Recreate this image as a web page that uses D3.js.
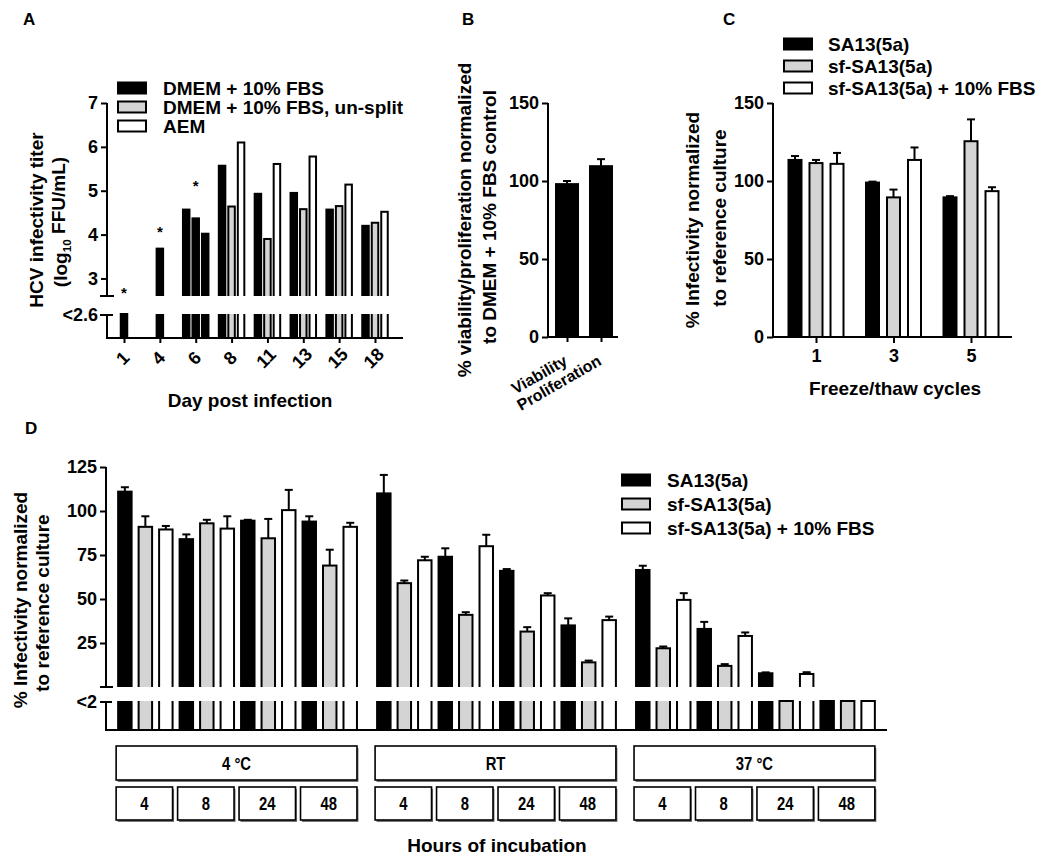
<!DOCTYPE html>
<html><head><meta charset="utf-8">
<script src="https://cdn.jsdelivr.net/npm/d3@7"></script>
<style>
body{margin:0;background:#fff}
svg text{font-family:"Liberation Sans",Arial,Helvetica,sans-serif;font-weight:bold;fill:#000}
svg text.narrow{font-family:"Liberation Sans",Arial,sans-serif;font-weight:bold}
</style></head><body>
<svg id="fig" width="1050" height="862"></svg>
<script>
// ================= DATA =================
// Panel A : HCV infectivity titer (log10 FFU/mL); 0 = below detection (<2.6); null = not measured
const aDays = ["1","4","6","8","11","13","15","18"];
const aSeriesNames = ["DMEM + 10% FBS","DMEM + 10% FBS, un-split","AEM"];
const aDmem    = [0, 3.68, 4.57, 5.57, 4.93, 4.95, 4.57, 4.20];
const aUnsplit = [null, null, 4.37, 4.64, 3.90, 4.58, 4.65, 4.27];
const aAem     = [null, null, 4.02, 6.10, 5.61, 5.78, 5.14, 4.52];
const aStarLevels = [2.75, 4.16, 5.2, null, null, null, null, null];
const aYTicks = [3,4,5,6,7];
const aLod = 2.6;
const aLodLabel = "<2.6";
const aSolidDays = ["6"];   // days whose bars are all drawn filled black in the source

// Panel B
const bCats = ["Viability","Proliferation"];
const bValues = [98, 109.5];
const bErrors = [2, 4.5];
const bYTicks = [0,50,100,150];

// Panel C
const cCycles = ["1","3","5"];
const cSeriesNames = ["SA13(5a)","sf-SA13(5a)","sf-SA13(5a) + 10% FBS"];
const cSA13     = [113.5, 99, 89.5];
const cSA13Err  = [2.5, 0.6, 0.8];
const cSf       = [111.5, 89.5, 125.5];
const cSfErr    = [2, 5, 14];
const cSfFbs    = [111, 113.5, 93.5];
const cSfFbsErr = [7, 8, 2.5];
const cYTicks = [0,50,100,150];

// Panel D : order = temperature-major, then hours; 0 = below detection (<2)
const dTemps = ["4 \u00B0C","RT","37 \u00B0C"];
const dHours = ["4","8","24","48"];
const dSeriesNames = ["SA13(5a)","sf-SA13(5a)","sf-SA13(5a) + 10% FBS"];
const dSA13      = [111, 84, 94.5, 94,   110, 74, 66, 35,    66.5, 33, 7.8, 0];
const dSA13Err   = [2.5, 2.7, 0.5, 3,    10.5, 4.8, 1, 4,    2.4, 4, 0.5, 0];
const dSf        = [91, 93, 84.5, 69,    59, 41, 31.5, 14,   22, 12, 0, 0];
const dSfErr     = [6, 2, 11, 9,         1.5, 1.5, 2.5, 1,   1, 1, 0, 0];
const dSfFbs     = [89.5, 90, 100.5, 91, 72, 80, 52, 38,     49.5, 29, 7.4, 0];
const dSfFbsErr  = [2, 7, 11.5, 2.3,     2, 6.5, 1.3, 2,     3.8, 2, 1, 0];
const dYTicks = [25,50,75,100,125];
const dLodLabel = "<2";

const FILLS = ["#000000","#d4d4d4","#ffffff"];

// ================= HELPERS =================
const svg = d3.select("#fig");
const SW = 2;

function line(g, x1, y1, x2, y2, w){
  g.append("line").attr("x1",x1).attr("y1",y1).attr("x2",x2).attr("y2",y2)
   .attr("stroke","#000").attr("stroke-width",w||SW);
}
function styleAxis(g, size){
  g.attr("font-family",null).attr("font-size",size).attr("font-weight","bold");
  g.select(".domain").remove();
  g.selectAll(".tick line").attr("stroke-width",SW);
}
function vTitle(x, y, parts, size){
  const t = svg.append("text").attr("transform",`translate(${x},${y}) rotate(-90)`)
    .attr("text-anchor","middle").attr("font-size",size||19);
  parts.forEach(p=>{
    if (p.sub) t.append("tspan").text(p.t).attr("font-size",(size||19)*0.62).attr("dy","0.3em");
    else t.append("tspan").text(p.t).attr("dy", p.after ? "-0.3em" : null);
  });
  return t;
}
function clip(id, x, y, w, h){
  svg.append("clipPath").attr("id",id).append("rect").attr("x",x).attr("y",y).attr("width",w).attr("height",h);
}
// bar drawn across a broken axis
function brokenBar(g, b, yU, baseU, lowTop, lowBot, upClip, lowClip){
  const x = b.x + 1, w = b.w - 2;
  if (b.detected){
    const yt = yU(b.v);
    g.append("rect").attr("x",x).attr("y",yt).attr("width",w).attr("height",baseU-yt+6)
      .attr("fill",b.fill).attr("stroke","#000").attr("stroke-width",SW).attr("clip-path",`url(#${upClip})`);
    g.append("rect").attr("x",x).attr("y",lowTop-6).attr("width",w).attr("height",lowBot-lowTop+6)
      .attr("fill",b.fill).attr("stroke","#000").attr("stroke-width",SW).attr("clip-path",`url(#${lowClip})`);
    if (b.err){
      const ye = yU(b.v + b.err), cx = b.x + b.w/2;
      line(g, cx, yt, cx, ye);
      line(g, cx-4, ye, cx+4, ye);
    }
  } else {
    g.append("rect").attr("x",x).attr("y",lowTop).attr("width",w).attr("height",lowBot-lowTop)
      .attr("fill",b.fill).attr("stroke","#000").attr("stroke-width",SW);
  }
}
function legend(x, y0, dy, names, textX, size){
  names.forEach((n,i)=>{
    const cy = y0 + i*dy;
    svg.append("rect").attr("x",x+1).attr("y",cy-5.5).attr("width",28).attr("height",11)
      .attr("fill",FILLS[i]).attr("stroke","#000").attr("stroke-width",SW);
    svg.append("text").attr("x",textX).attr("y",cy+6.5).attr("font-size",size||19).text(n);
  });
}
function panelLabel(t, x, y){ svg.append("text").attr("x",x).attr("y",y).attr("font-size",17).text(t); }

// ================= PANEL A =================
{
  const axX = 107, baseU = 296, lowTop = 314, lowBot = 338;
  const yU = d3.scaleLinear().domain([aLod, 7]).range([baseU, 103]);
  const x = d3.scalePoint().domain(aDays).range([124, 375]);
  const g = svg.append("g");
  clip("aUp", axX, 0, 320, baseU);
  clip("aLow", axX, lowTop, 320, lowBot-lowTop+4);
  const series = [aDmem, aUnsplit, aAem];
  aDays.forEach((d, di)=>{
    const present = series.map((s,si)=>({si, v:s[di]})).filter(o=>o.v !== null);
    const n = present.length;
    present.forEach((o, k)=>{
      const cx = x(d) + (k - (n-1)/2)*9.5;
      const fill = aSolidDays.includes(d) ? FILLS[0] : FILLS[o.si];
      brokenBar(g, {x: cx-4.25, w: 8.5, v: o.v, detected: o.v >= aLod, fill}, yU, baseU, lowTop, lowBot, "aUp", "aLow");
    });
    if (aStarLevels[di] !== null){
      svg.append("text").attr("x", x(d)).attr("y", yU(aStarLevels[di]) + 9)
        .attr("text-anchor","middle").attr("font-size",15).text("*");
    }
  });
  // axes
  line(svg, axX, 103, axX, baseU);
  line(svg, axX-7, baseU, axX+7, baseU);
  line(svg, axX, lowTop, axX, lowBot);
  line(svg, axX-7, lowTop+1, axX+6, lowTop+1);
  svg.append("text").attr("x", axX-9).attr("y", lowTop+1).attr("dy","0.32em").attr("text-anchor","end").attr("font-size",18).text(aLodLabel);
  svg.append("g").attr("transform",`translate(${axX},0)`)
    .call(d3.axisLeft(yU).tickValues(aYTicks).tickSize(6).tickPadding(3).tickFormat(d3.format("d")))
    .call(g=>styleAxis(g,18));
  line(svg, axX-1, lowBot, 403, lowBot);
  const xa = svg.append("g").attr("transform",`translate(0,${lowBot})`)
    .call(d3.axisBottom(x).tickSize(5).tickSizeOuter(0))
    .call(g=>styleAxis(g,18));
  xa.selectAll(".tick text").attr("y",0).attr("dy","0.35em").attr("text-anchor","middle")
    .attr("transform","translate(-2,20) rotate(-45)");
  legend(117, 88, 19, aSeriesNames, 163, 19);
  vTitle(43, 220, [{t:"HCV infectivity titer"}]);
  vTitle(67, 222, [{t:"(log"},{t:"10",sub:true},{t:" FFU/mL)",after:true}]);
  svg.append("text").attr("x",250).attr("y",407).attr("text-anchor","middle").attr("font-size",19).text("Day post infection");
  panelLabel("A", 23, 25);
}

// ================= PANEL B =================
{
  const axX = 548, y0 = 337;
  const y = d3.scaleLinear().domain([0,150]).range([y0, 103]);
  const x = d3.scalePoint().domain(bCats).range([567, 601]);
  const g = svg.append("g");
  bCats.forEach((c,i)=>{
    const yt = y(bValues[i]);
    g.append("rect").attr("x",x(c)-12+1).attr("y",yt).attr("width",22).attr("height",y0-yt)
      .attr("fill","#000").attr("stroke","#000").attr("stroke-width",SW);
    const ye = y(bValues[i]+bErrors[i]);
    line(g, x(c), yt, x(c), ye); line(g, x(c)-4, ye, x(c)+4, ye);
  });
  line(svg, axX, 103, axX, y0);
  svg.append("g").attr("transform",`translate(${axX},0)`)
    .call(d3.axisLeft(y).tickValues(bYTicks).tickSize(6).tickPadding(3))
    .call(g=>styleAxis(g,18));
  line(svg, axX-1, y0, 618, y0);
  const xa = svg.append("g").attr("transform",`translate(0,${y0})`)
    .call(d3.axisBottom(x).tickSize(5).tickSizeOuter(0))
    .call(g=>styleAxis(g,16));
  xa.selectAll(".tick text").attr("y",0).attr("dy",0).attr("text-anchor","end")
    .attr("transform","translate(1,27) rotate(-30)");
  vTitle(471, 220, [{t:"% viability/proliferation normalized"}]);
  vTitle(496, 217, [{t:"to DMEM + 10% FBS control"}]);
  panelLabel("B", 462, 25);
}

// ================= PANEL C =================
{
  const axX = 773, y0 = 337;
  const y = d3.scaleLinear().domain([0,150]).range([y0, 103]);
  const x = d3.scalePoint().domain(cCycles).range([816, 971]);
  const xi = d3.scaleBand().domain(cSeriesNames).range([-28.5, 28.5]).paddingInner(0.286);
  const vals = [cSA13, cSf, cSfFbs], errs = [cSA13Err, cSfErr, cSfFbsErr];
  const g = svg.append("g");
  cCycles.forEach((c,ci)=>{
    cSeriesNames.forEach((s,si)=>{
      const bx = x(c) + xi(s), bw = xi.bandwidth();
      const yt = y(vals[si][ci]);
      g.append("rect").attr("x",bx+1).attr("y",yt).attr("width",bw-2).attr("height",y0-yt)
        .attr("fill",FILLS[si]).attr("stroke","#000").attr("stroke-width",SW);
      const ye = y(vals[si][ci]+errs[si][ci]), cx = bx + bw/2;
      line(g, cx, yt, cx, ye); line(g, cx-4, ye, cx+4, ye);
    });
  });
  line(svg, axX, 103, axX, y0);
  svg.append("g").attr("transform",`translate(${axX},0)`)
    .call(d3.axisLeft(y).tickValues(cYTicks).tickSize(6).tickPadding(3))
    .call(g=>styleAxis(g,18));
  line(svg, axX-1, y0, 1012, y0);
  svg.append("g").attr("transform",`translate(0,${y0})`)
    .call(d3.axisBottom(x).tickSize(6).tickPadding(6).tickSizeOuter(0))
    .call(g=>styleAxis(g,18));
  legend(783, 44, 22, cSeriesNames, 828, 19);
  vTitle(699, 220, [{t:"% Infectivity normalized"}]);
  vTitle(726, 218, [{t:"to reference culture"}]);
  svg.append("text").attr("x",895).attr("y",395).attr("text-anchor","middle").attr("font-size",19).text("Freeze/thaw cycles");
  panelLabel("C", 723, 25);
}

// ================= PANEL D =================
{
  const axX = 106, baseU = 687, lowTop = 701, lowBot = 730;
  const yU = d3.scaleLinear().domain([0,125]).range([baseU, 467]);
  const xT = d3.scaleBand().domain(dTemps).range([106, 887]).paddingInner(0.07).paddingOuter(0.043);
  const keys = dHours.flatMap(h => dSeriesNames.map(s => h+"|"+s));
  const xI = d3.scaleBand().domain(keys).range([0, xT.bandwidth()]).paddingInner(0.245);
  const vals = [dSA13, dSf, dSfFbs], errs = [dSA13Err, dSfErr, dSfFbsErr];
  const g = svg.append("g");
  clip("dUp", axX, 0, 800, baseU);
  clip("dLow", axX, lowTop, 800, lowBot-lowTop+4);
  dTemps.forEach((t,ti)=>{
    dHours.forEach((h,hi)=>{
      const idx = ti*dHours.length + hi;
      dSeriesNames.forEach((s,si)=>{
        const v = vals[si][idx];
        brokenBar(g, {x: xT(t)+xI(h+"|"+s), w: xI.bandwidth(), v, err: errs[si][idx], detected: v > 0, fill: FILLS[si]},
          yU, baseU, lowTop, lowBot, "dUp", "dLow");
      });
    });
  });
  line(svg, axX, 467, axX, baseU);
  line(svg, axX-6, baseU, axX+7, baseU);
  line(svg, axX, lowTop, axX, lowBot);
  line(svg, axX-6, lowTop+1, axX+6, lowTop+1);
  svg.append("text").attr("x", axX-9).attr("y", lowTop+1).attr("dy","0.32em").attr("text-anchor","end").attr("font-size",18).text(dLodLabel);
  svg.append("g").attr("transform",`translate(${axX},0)`)
    .call(d3.axisLeft(yU).tickValues(dYTicks).tickSize(6).tickPadding(3))
    .call(g=>styleAxis(g,18));
  line(svg, axX-1, lowBot, 887, lowBot);
  // category boxes (labels horizontally condensed like the source's narrow face)
  const box = (x, y, w, h, label)=>{
    svg.append("rect").attr("x",x+1.5).attr("y",y+2).attr("width",w).attr("height",h).attr("fill","#777");
    svg.append("rect").attr("x",x).attr("y",y).attr("width",w).attr("height",h)
      .attr("fill","#fff").attr("stroke","#000").attr("stroke-width",1.6);
    svg.append("text").attr("class","narrow")
      .attr("transform",`translate(${x+w/2},${y+h/2}) scale(0.78,1)`).attr("dy","0.36em")
      .attr("text-anchor","middle").attr("font-size",19).text(label);
  };
  dTemps.forEach(t=>{
    box(xT(t)-1, 746, xT.bandwidth(), 34, t);
    dHours.forEach(h=>{
      const x0 = xT(t) + xI(h+"|"+dSeriesNames[0]);
      const x1 = xT(t) + xI(h+"|"+dSeriesNames[2]) + xI.bandwidth();
      box(x0-1, 787, x1-x0, 33, h);
    });
  });
  legend(621, 480, 24, dSeriesNames, 667, 19);
  vTitle(27, 600, [{t:"% Infectivity normalized"}]);
  vTitle(49, 603, [{t:"to reference culture"}]);
  svg.append("text").attr("x",497).attr("y",852).attr("text-anchor","middle").attr("font-size",19).text("Hours of incubation");
  panelLabel("D", 25, 434);
}
</script>
</body></html>
